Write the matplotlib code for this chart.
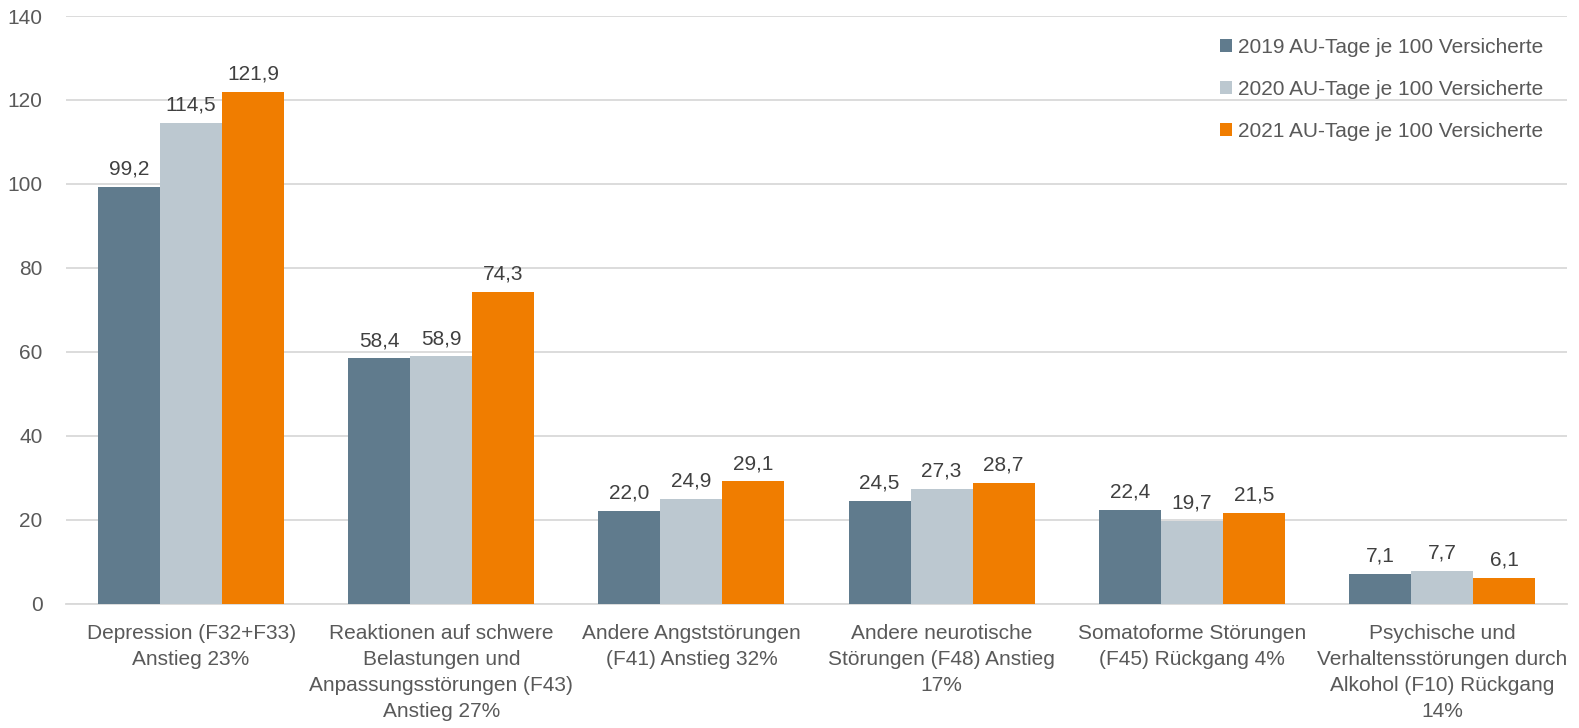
import matplotlib.pyplot as plt
import numpy as np

categories = [
    "Depression (F32+F33)\nAnstieg 23%",
    "Reaktionen auf schwere\nBelastungen und\nAnpassungsstörungen (F43)\nAnstieg 27%",
    "Andere Angststörungen\n(F41) Anstieg 32%",
    "Andere neurotische\nStörungen (F48) Anstieg\n17%",
    "Somatoforme Störungen\n(F45) Rückgang 4%",
    "Psychische und\nVerhaltensstörungen durch\nAlkohol (F10) Rückgang\n14%",
]
values_2019 = [99.2, 58.4, 22.0, 24.5, 22.4, 7.1]
values_2020 = [114.5, 58.9, 24.9, 27.3, 19.7, 7.7]
values_2021 = [121.9, 74.3, 29.1, 28.7, 21.5, 6.1]
series_labels = [
    "2019 AU-Tage je 100 Versicherte",
    "2020 AU-Tage je 100 Versicherte",
    "2021 AU-Tage je 100 Versicherte",
]
colors = ["#607B8D", "#BCC8D0", "#F07D00"]
yticks = [0, 20, 40, 60, 80, 100, 120, 140]

plt.rcParams["font.family"] = ["Liberation Sans", "DejaVu Sans"]
text_color = "#595959"

fig = plt.figure(figsize=(15.79, 7.28), dpi=100)
ax = fig.add_axes([0.0418, 0.171, 0.9506, 0.807])

x = np.arange(len(categories))
width = 0.248
for i, (vals, lab, col) in enumerate(zip([values_2019, values_2020, values_2021], series_labels, colors)):
    pos = x + (i - 1) * width
    bars = ax.bar(pos, vals, width, color=col, label=lab, zorder=3)
    for b, v in zip(bars, vals):
        ax.annotate(f"{v:.1f}".replace(".", ","), (b.get_x() + b.get_width() / 2, v),
                    xytext=(0, 6), textcoords="offset points", ha="center", va="bottom",
                    fontsize=15, color="#404040")

ax.set_xlim(-0.5, len(categories) - 0.5)
ax.set_ylim(0, 140)
ax.set_yticks(yticks)
ax.set_yticklabels([str(t) for t in yticks])
ax.set_xticks(x)
ax.set_xticklabels(categories, linespacing=1.45)
ax.tick_params(axis="both", length=0, labelsize=15, colors=text_color)
ax.tick_params(axis="y", pad=17)
ax.tick_params(axis="x", pad=15)
ax.grid(axis="y", color="#D9D9D9", linewidth=1.3, zorder=0)
for s in ["top", "right", "left"]:
    ax.spines[s].set_visible(False)
ax.spines["bottom"].set_color("#D9D9D9")
ax.spines["bottom"].set_linewidth(1.3)

leg = ax.legend(loc="upper right", bbox_to_anchor=(0.997, 0.995), frameon=False, fontsize=15,
                handlelength=0.6, handleheight=0.6, handletextpad=0.3, labelspacing=1.1)
for t in leg.get_texts():
    t.set_color(text_color)

fig.savefig("out.png", dpi=100)
